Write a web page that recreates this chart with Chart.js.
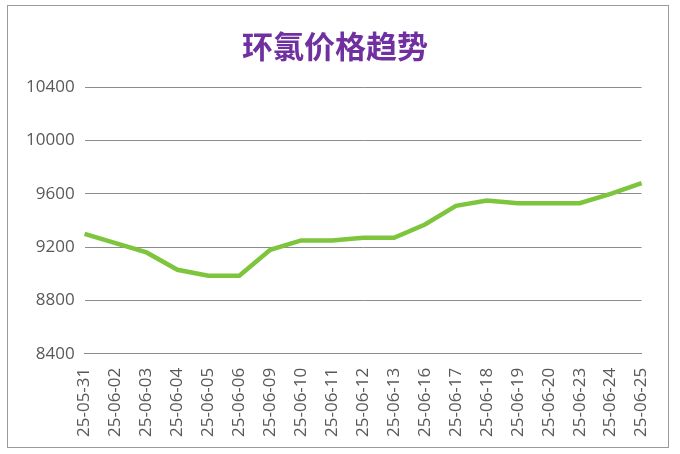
<!DOCTYPE html>
<html><head><meta charset="utf-8">
<script src="https://cdn.jsdelivr.net/npm/chart.js@4"></script>
<style>
body{margin:0;background:#fff}
#wrap{position:absolute;left:7px;top:5px;width:662px;height:443px;border:1px solid #9a9a9a;box-sizing:border-box}
</style></head><body>
<div id="wrap"><canvas id="c"></canvas></div>
<script>
// data
const dates = ["25-05-31","25-06-02","25-06-03","25-06-04","25-06-05","25-06-06","25-06-09","25-06-10","25-06-11","25-06-12","25-06-13","25-06-16","25-06-17","25-06-18","25-06-19","25-06-20","25-06-23","25-06-24","25-06-25"];
const prices = [9300,9230,9160,9030,8985,8985,9180,9250,9250,9270,9270,9370,9510,9550,9530,9530,9530,9600,9680];
const yTicks = [8400,8800,9200,9600,10000,10400];

new Chart(document.getElementById("c"), {
  type: "line",
  data: { labels: dates, datasets: [{ data: prices, borderColor: "#7DC53C", borderWidth: 4.5, pointRadius: 0, tension: 0 }] },
  options: {
    responsive: true, maintainAspectRatio: false, animation: false,
    layout: { padding: { left: 8, right: 14, top: 4, bottom: 4 } },
    plugins: {
      legend: { display: false },
      title: { display: true, text: "环氯价格趋势", color: "#7030A0",
        font: { family: "Noto Sans CJK SC", size: 31, weight: "bold" }, padding: { top: 18, bottom: 22 } }
    },
    scales: {
      y: { min: 8400, max: 10400,
        afterBuildTicks: a => { a.ticks = yTicks.map(v => ({ value: v })); },
        grid: { color: "#8c8c8c", drawTicks: false }, border: { display: false },
        ticks: { color: "#595959", padding: 10, callback: v => String(v), font: { family: "Open Sans", size: 17 } } },
      x: { offset: false, grid: { display: false }, border: { color: "#8c8c8c" },
        ticks: { color: "#595959", maxRotation: 90, minRotation: 90, autoSkip: false, padding: 6,
          font: { family: "Open Sans", size: 17 } } }
    }
  }
});
</script>
</body></html>
